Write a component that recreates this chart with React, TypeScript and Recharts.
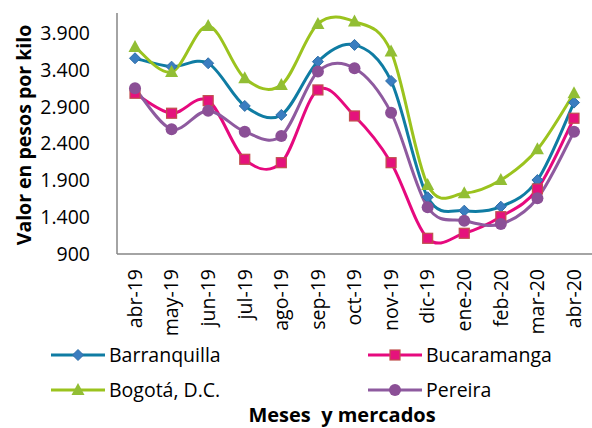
import React from 'react'
import { Legend, Line, LineChart, XAxis, YAxis } from 'recharts'

const months = ['abr-19', 'may-19', 'jun-19', 'jul-19', 'ago-19', 'sep-19', 'oct-19', 'nov-19', 'dic-19', 'ene-20', 'feb-20', 'mar-20', 'abr-20']
const barranquilla = [3556, 3442, 3488, 2909, 2787, 3510, 3737, 3248, 1670, 1488, 1542, 1904, 2954]
const bucaramanga = [3081, 2810, 2981, 2185, 2139, 3126, 2773, 2139, 1113, 1181, 1406, 1782, 2742]
const bogota = [3710, 3370, 3995, 3285, 3194, 4022, 4053, 3646, 1837, 1724, 1904, 2321, 3081]
const pereira = [3149, 2593, 2845, 2560, 2502, 3375, 3420, 2818, 1534, 1352, 1307, 1656, 2560]
const yTicks = [900, 1400, 1900, 2400, 2900, 3400, 3900]

const FONT = '"Open Sans", sans-serif'
const FS = 19.5

const data = months.map((m, i) => ({
  month: m,
  barranquilla: barranquilla[i],
  bucaramanga: bucaramanga[i],
  bogota: bogota[i],
  pereira: pereira[i],
}))

const series = [
  { key: 'barranquilla', name: 'Barranquilla', color: '#0F7CA3', fill: '#3A7DC0', edge: '#2F6FA8', shape: 'diamond' },
  { key: 'bucaramanga', name: 'Bucaramanga', color: '#E6097E', fill: '#E5127C', edge: '#C0504D', shape: 'square' },
  { key: 'bogota', name: 'Bogotá, D.C.', color: '#9BC31E', fill: '#92BE34', edge: '#92BE34', shape: 'triangle' },
  { key: 'pereira', name: 'Pereira', color: '#8E5A9F', fill: '#8B4F96', edge: '#8B4F96', shape: 'circle' },
]

// excel-like smoothed line (catmull-rom through the points)
const smoothCurve = (context: any) => {
  let pts: number[][] = []
  return {
    areaStart() {},
    areaEnd() {},
    lineStart() {
      pts = []
    },
    point(x: number, y: number) {
      pts.push([+x, +y])
    },
    lineEnd() {
      if (!pts.length) return
      context.moveTo(pts[0][0], pts[0][1])
      for (let i = 0; i < pts.length - 1; i++) {
        const p0 = pts[i - 1] || pts[i]
        const p1 = pts[i]
        const p2 = pts[i + 1]
        const p3 = pts[i + 2] || p2
        context.bezierCurveTo(
          p1[0] + (p2[0] - p0[0]) / 6,
          p1[1] + (p2[1] - p0[1]) / 6,
          p2[0] - (p3[0] - p1[0]) / 6,
          p2[1] - (p3[1] - p1[1]) / 6,
          p2[0],
          p2[1]
        )
      }
    },
  }
}

const Marker = ({ shape, x, y, fill, edge }: any) => {
  if (shape === 'diamond') {
    const r = 5.5
    return <path d={`M${x},${y - r}L${x + r},${y}L${x},${y + r}L${x - r},${y}Z`} fill={fill} stroke={edge} strokeWidth={1} />
  }
  if (shape === 'square') {
    return <rect x={x - 5} y={y - 5} width={10} height={10} fill={fill} stroke={edge} strokeWidth={1.2} />
  }
  if (shape === 'triangle') {
    return <path d={`M${x},${y - 7}L${x + 6.5},${y + 5}L${x - 6.5},${y + 5}Z`} fill={fill} />
  }
  return <circle cx={x} cy={y} r={6} fill={fill} />
}

const makeDot = (s: any) => (props: any) => {
  const { cx, cy, index } = props
  return (
    <g key={`${s.key}-${index}`}>
      <Marker shape={s.shape} x={cx} y={cy} fill={s.fill} edge={s.edge} />
    </g>
  )
}

const fmt = (v: number) => v.toString().replace(/\B(?=(\d{3})+(?!\d))/g, '.')

const MonthTick = ({ x, y, payload }: any) => (
  <g transform={`translate(${x},${y + 15}) rotate(-90)`}>
    <text textAnchor="end" dy="0.35em" fontSize={FS} fontFamily={FONT} fill="#000">
      {payload.value}
    </text>
  </g>
)

const YLabel = () => (
  <text
    transform="translate(24,135) rotate(-90)"
    textAnchor="middle"
    dy="0.35em"
    fontSize={19.5}
    fontWeight="bold"
    fontFamily={FONT}
    fill="#000"
  >
    Valor en pesos por kilo
  </text>
)

const legendPos = [
  { x: 51, y: 17 },
  { x: 368, y: 17 },
  { x: 51, y: 52 },
  { x: 368, y: 52 },
]

const ChartLegend = () => (
  <svg width={592} height={90} style={{ display: 'block', overflow: 'visible' }}>
    {series.map((s, i) => {
      const p = legendPos[i]
      return (
        <g key={s.key}>
          <line x1={p.x} x2={p.x + 54} y1={p.y} y2={p.y} stroke={s.color} strokeWidth={3} />
          <Marker shape={s.shape} x={p.x + 27} y={p.y} fill={s.fill} edge={s.edge} />
          <text x={p.x + 58} y={p.y} dy="0.35em" fontSize={FS} fontFamily={FONT} fill="#000">
            {s.name}
          </text>
        </g>
      )
    })}
    <text x={342} y={77} dy="0.35em" textAnchor="middle" fontSize={20} fontWeight="bold" fontFamily={FONT} fill="#000" style={{ whiteSpace: 'pre' }}>
      {'Meses  y mercados'}
    </text>
  </svg>
)

export default function App() {
  return (
    <div style={{ position: 'absolute', left: 0, top: 0, width: 592, height: 428, background: '#fff' }}>
      <LineChart width={592} height={428} data={data} margin={{ top: 13, right: 0, bottom: 0, left: 0 }}>
        <XAxis
          dataKey="month"
          interval={0}
          padding={{ left: 18, right: 18 }}
          height={84}
          tickLine={false}
          tickSize={0}
          tickMargin={0}
          axisLine={{ stroke: '#868686', strokeWidth: 1.5 }}
          tick={<MonthTick />}
        />
        <YAxis
          width={117}
          domain={[900, 4170]}
          ticks={yTicks}
          interval={0}
          allowDataOverflow
          tickFormatter={fmt}
          tickLine={false}
          tickSize={0}
          tickMargin={27}
          axisLine={{ stroke: '#868686', strokeWidth: 1.5 }}
          tick={{ fontSize: FS, fontFamily: FONT, fill: '#000' }}
          label={{ content: <YLabel /> }}
        />
        <Legend verticalAlign="bottom" content={() => <ChartLegend />} wrapperStyle={{ left: 0, bottom: 0, width: 592, height: 90 }} />
        {series.map((s) => (
          <Line
            key={s.key}
            dataKey={s.key}
            name={s.name}
            type={smoothCurve as any}
            stroke={s.color}
            strokeWidth={3}
            dot={makeDot(s)}
            activeDot={false}
            isAnimationActive={false}
          />
        ))}
      </LineChart>
    </div>
  )
}
